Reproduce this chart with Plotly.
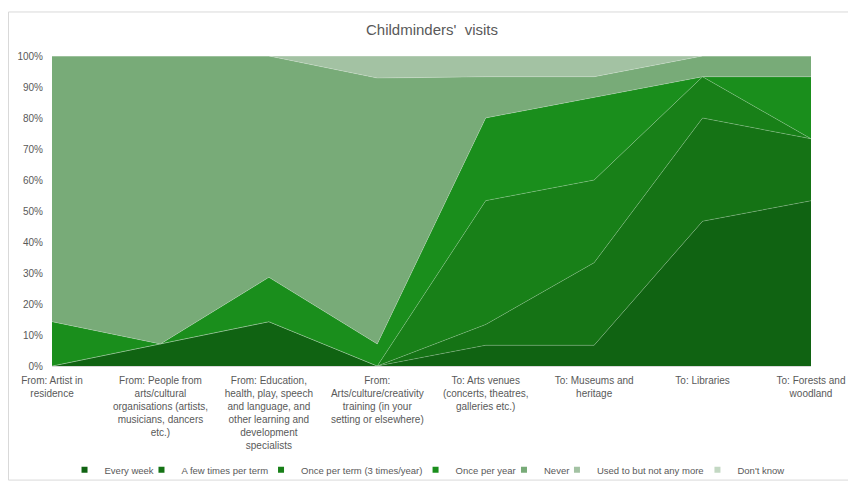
import plotly.graph_objects as go

categories = [
    "From: Artist in<br>residence",
    "From: People from<br>arts/cultural<br>organisations (artists,<br>musicians, dancers<br>etc.)",
    "From: Education,<br>health, play, speech<br>and language, and<br>other learning and<br>development<br>specialists",
    "From:<br>Arts/culture/creativity<br>training (in your<br>setting or elsewhere)",
    "To: Arts venues<br>(concerts, theatres,<br>galleries etc.)",
    "To: Museums and<br>heritage",
    "To: Libraries",
    "To: Forests and<br>woodland",
]

# percentages
every_week = [0, 7.1, 14.3, 0, 6.7, 6.7, 46.7, 53.3]
few_times_term = [0, 0, 0, 0, 6.7, 26.7, 33.3, 20.0]
once_per_term = [0, 0, 0, 0, 40.0, 26.7, 13.3, 0]
once_per_year = [14.3, 0, 14.3, 7.1, 26.7, 26.7, 0, 20.0]
never = [85.7, 92.9, 71.4, 85.7, 13.3, 6.7, 6.7, 6.7]
used_to = [0, 0, 0, 7.1, 6.7, 6.7, 0, 0]
dont_know = [0, 0, 0, 0, 0, 0, 0, 0]

series = [
    ("Every week", every_week, "#106312"),
    ("A few times per term", few_times_term, "#157315"),
    ("Once per term (3 times/year)", once_per_term, "#188018"),
    ("Once per year", once_per_year, "#1a8e1c"),
    ("Never", never, "#78ab78"),
    ("Used to but not any more", used_to, "#a3c2a3"),
    ("Don't know", dont_know, "#c3d8c3"),
]

font = "Liberation Sans, Arial"

# left edge of each legend entry, in paper fractions of the plot width
legend_x = [0.0165, 0.1179, 0.2754, 0.4790, 0.5955, 0.6653, 0.8504]

fig = go.Figure()
for name, vals, col in series:
    fig.add_trace(go.Scatter(
        x=categories, y=vals, name=name, mode="lines",
        stackgroup="one", groupnorm="percent", showlegend=False,
        line=dict(width=0.6, color="rgba(255,255,255,0.35)"),
        fillcolor=col,
    ))

# one small legend per entry so the row is laid out like the original
legends = {}
for i, (name, vals, col) in enumerate(series):
    key = "legend" if i == 0 else f"legend{i + 1}"
    fig.add_trace(go.Scatter(
        x=[None], y=[None], name=name, mode="markers", legend=key,
        marker=dict(symbol="square", size=6, color=col),
    ))
    legends[key] = dict(orientation="h", x=legend_x[i], xanchor="left",
                        y=-0.335, yanchor="middle", bgcolor="rgba(0,0,0,0)",
                        font=dict(size=9.5, color="#595959"), itemwidth=30)

# page body has an 8px margin, so the figure is 8px smaller each way
fig.update_layout(
    width=848, height=474,
    margin=dict(l=44, r=45, t=48, b=116, autoexpand=False),
    paper_bgcolor="white", plot_bgcolor="white",
    font=dict(family=font, size=10, color="#595959"),
    title=dict(text="Childminders'  visits", x=0.5, xanchor="center", y=0.954,
               yanchor="middle", font=dict(size=15, color="#595959")),
    showlegend=True,
    shapes=[dict(type="rect", xref="paper", yref="paper",
                 x0=-0.0573, x1=1.058, y0=-0.368, y1=1.142,
                 line=dict(color="#d9d9d9", width=1))],
    **legends,
)
fig.update_xaxes(range=[0, 7], showgrid=False, showline=True, linecolor="#d9d9d9",
                 ticks="outside", ticklen=5, tickcolor="rgba(0,0,0,0)",
                 tickangle=0, tickfont=dict(size=10))
fig.update_yaxes(range=[0, 100], showgrid=False, zeroline=False, ticksuffix="%",
                 ticks="outside", ticklen=6, tickcolor="rgba(0,0,0,0)",
                 dtick=10, tickfont=dict(size=10))

fig.write_html("out.html")
